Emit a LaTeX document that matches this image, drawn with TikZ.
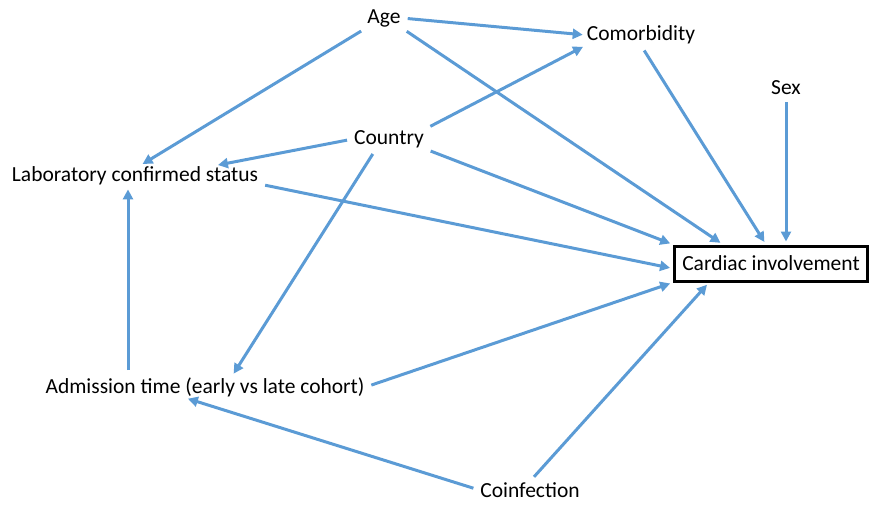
\documentclass[tikz,border=0pt]{standalone}
\usepackage{fontspec}
\setmainfont{Carlito}
\usetikzlibrary{arrows.meta}
\definecolor{link}{RGB}{91,155,213}
\tikzstyle{var} = [inner sep=1pt, font=\fontsize{21.5}{25}\selectfont]
\tikzstyle{outcome} = [var, draw=black, line width=3pt, minimum width=193pt, minimum height=35pt]
\tikzstyle{link} = [draw=link, line width=3pt, -{Triangle[length=10pt,width=10pt]}, shorten <=6pt, shorten >=3pt]

\begin{document}
\begin{tikzpicture}[x=1pt, y=-1pt]
        \useasboundingbox (0,0) rectangle (869,504);
        % variables
        \node[var] (age) at (384,18) {Age};
        \node[var] (comorb) at (641,35) {Comorbidity};
        \node[var] (sex) at (786,88) {Sex};
        \node[var] (country) at (389,139) {Country};
        \node[var] (lab) at (135,176) {Laboratory confirmed status};
        \node[outcome] (card) at (771,263.5) {Cardiac involvement};
        \node[var] (admit) at (205,387) {Admission time (early vs late cohort)};
        \node[var] (coinf) at (530,490) {Coinfection};

        % paths
        \draw[link] (age.east) -- (comorb.west);
        \draw[link] (age.south west) -- ([xshift=5pt]lab.north);
        \draw[link] (age.south east) -- ([xshift=-48pt]card.north);
        \draw[link] (comorb.south) -- ([xshift=-5pt]card.north);
        \draw[link] (sex.south) -- (sex.south |- card.north);
        \draw[link] (country.north east) -- (comorb.south west);
        \draw[link] (country.west) -- ([xshift=80pt]lab.north);
        \draw[link] (country.south east) -- (card.north west);
        \draw[link] ([xshift=-13pt]country.south) -- ([xshift=27pt]admit.north);
        \draw[link] ([yshift=-8pt]lab.east) -- ([yshift=-5pt]card.west);
        \draw[link] ([xshift=-77pt]admit.north) -- ([xshift=-77pt]admit.north |- lab.south);
        \draw[link] (admit.east) -- (card.south west);
        \draw[link] (coinf.west) -- ([xshift=-20pt]admit.south);
        \draw[link] (coinf.north) -- ([xshift=-62pt]card.south);
\end{tikzpicture}
\end{document}
